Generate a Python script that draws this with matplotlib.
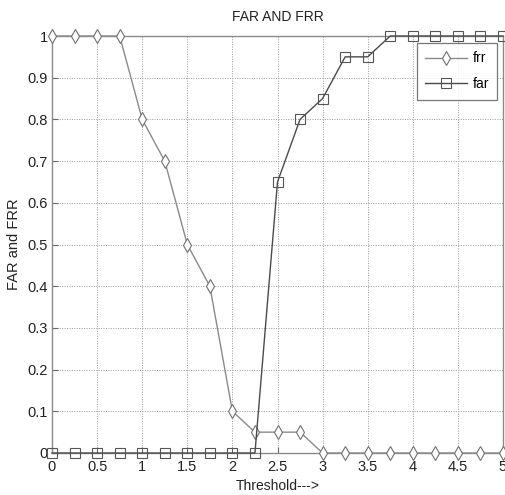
import matplotlib
matplotlib.use("Agg")
import matplotlib.pyplot as plt

plt.rcParams['font.family'] = ['Liberation Sans', 'DejaVu Sans']

threshold = [0, 0.25, 0.5, 0.75, 1, 1.25, 1.5, 1.75, 2, 2.25, 2.5, 2.75, 3,
             3.25, 3.5, 3.75, 4, 4.25, 4.5, 4.75, 5]
frr = [1, 1, 1, 1, 0.8, 0.7, 0.5, 0.4, 0.1, 0.05, 0.05, 0.05, 0,
       0, 0, 0, 0, 0, 0, 0, 0]
far = [0, 0, 0, 0, 0, 0, 0, 0, 0, 0, 0.65, 0.8, 0.85,
       0.95, 0.95, 1, 1, 1, 1, 1, 1]

xticks = [0, 0.5, 1, 1.5, 2, 2.5, 3, 3.5, 4, 4.5, 5]
xtick_labels = ['0', '0.5', '1', '1.5', '2', '2.5', '3', '3.5', '4', '4.5', '5']
yticks = [0, 0.1, 0.2, 0.3, 0.4, 0.5, 0.6, 0.7, 0.8, 0.9, 1]
ytick_labels = ['0', '0.1', '0.2', '0.3', '0.4', '0.5', '0.6', '0.7', '0.8', '0.9', '1']

fig = plt.figure(figsize=(5.05, 4.95), dpi=100)
ax = fig.add_axes([52 / 505, 1 - 453 / 495, 451 / 505, 417 / 495])

ax.plot(threshold, frr, color='#8a8a8a', lw=1.0, marker='d', markersize=7.5,
        markerfacecolor='white', markeredgecolor='#707070', markeredgewidth=0.8,
        label='frr', clip_on=False, zorder=3)
ax.plot(threshold, far, color='#4a4a4a', lw=1.0, marker='s', markersize=7,
        markerfacecolor='none', markeredgecolor='#555555', markeredgewidth=0.8,
        label='far', clip_on=False, zorder=3)

ax.set_xlim(0, 5)
ax.set_ylim(0, 1)
ax.set_xticks(xticks)
ax.set_xticklabels(xtick_labels)
ax.set_yticks(yticks)
ax.set_yticklabels(ytick_labels)
ax.grid(True, linestyle=(0, (1, 1.5)), color='#9a9a9a', lw=0.7)
ax.tick_params(direction='in', length=4, labelsize=10.5, colors='#666666',
               labelcolor='#222222')
ax.tick_params(axis='x', pad=5)
ax.tick_params(axis='y', pad=3)
for s in ax.spines.values():
    s.set_color('#8a8a8a')
    s.set_linewidth(1.0)

ax.set_title('FAR AND FRR', fontsize=10, color='#222222', pad=11)
ax.set_xlabel('Threshold--->', fontsize=10, color='#222222', labelpad=4)
ax.set_ylabel('FAR and FRR', fontsize=10.5, color='#222222', labelpad=5)

leg = ax.legend(loc='upper right', bbox_to_anchor=(0.987, 0.983), fontsize=10,
                handlelength=3.0, frameon=True, fancybox=False,
                borderaxespad=0, borderpad=0.6, labelspacing=0.85,
                handletextpad=0.4)
leg.get_frame().set_edgecolor('#555555')
leg.get_frame().set_linewidth(0.9)

fig.savefig('out.png', dpi=100)
